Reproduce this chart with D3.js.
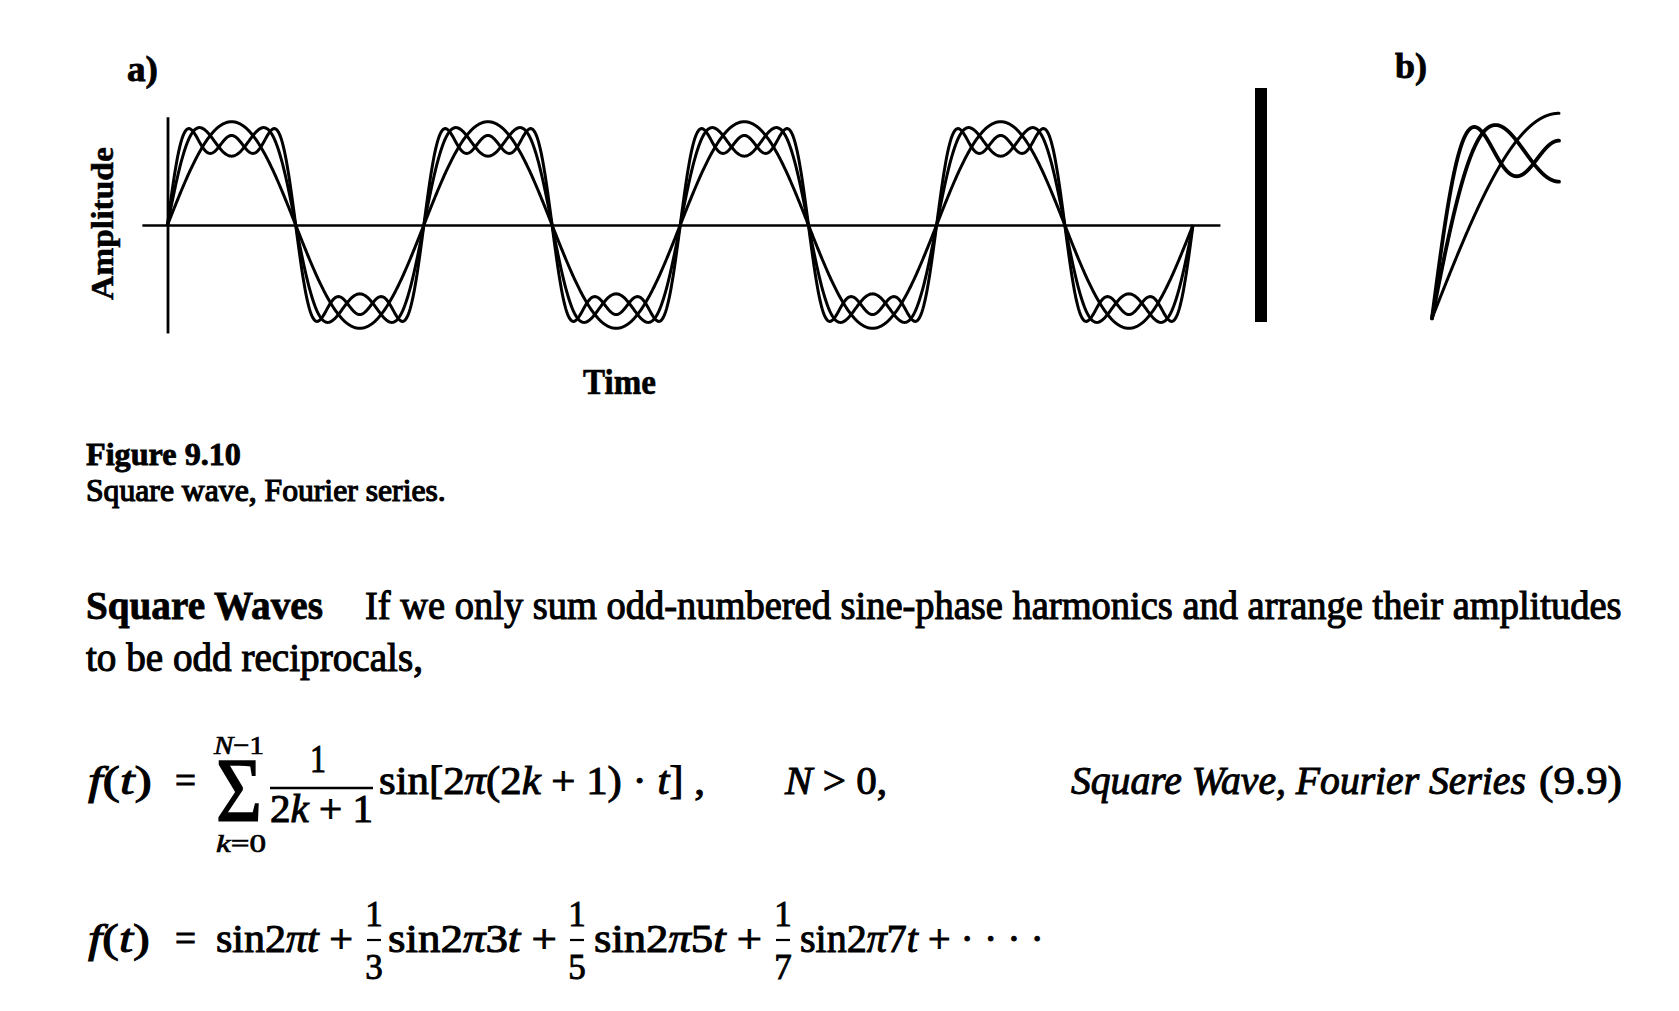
<!DOCTYPE html>
<html><head><meta charset="utf-8">
<script src="https://cdn.jsdelivr.net/npm/d3@7"></script>
<style>body{margin:0;background:#fff} svg{display:block}</style>
</head><body>
<script>
// ---------------- data ----------------
const harmonicNumbers    = [1, 3, 5];          // odd harmonics (2k+1)
const harmonicAmplitudes = [1, 1/3, 1/5];      // odd reciprocals 1/(2k+1)
const termCounts         = [1, 2, 3];          // N of each plotted partial sum
const periodsShown       = [0, 4];             // panel a: time span in periods
const detailShown        = [0, 0.25];          // panel b: time span in periods
const sampleCount        = 1200;

function partialSum(t, N) {
  let s = 0;
  for (let k = 0; k < N; k++) s += harmonicAmplitudes[k] * Math.sin(2 * Math.PI * harmonicNumbers[k] * t);
  return s;
}

const W = 1679, H = 1011;
const svg = d3.select("body").append("svg").attr("width", W).attr("height", H)
  .style("font-family", "'Liberation Serif', 'Times New Roman', serif");

// ---------------- panel a ----------------
const xA = d3.scaleLinear().domain(periodsShown).range([167.5, 1193]);
const yA = d3.scaleLinear().domain([-1, 1]).range([328.3, 121.7]);

const xAxisScale = d3.scaleLinear().domain([-0.1, 4.105]).range([xA(-0.1), xA(4.105)]);
svg.append("g").attr("transform", `translate(0,${yA(0)})`)
  .call(d3.axisBottom(xAxisScale).tickValues([]).tickSizeOuter(0))
  .select(".domain").attr("stroke", "#000").attr("stroke-width", 2.4);
const yAxisScale = d3.scaleLinear().domain([-1.045, 1.048]).range([yA(-1.045), yA(1.048)]);
svg.append("g").attr("transform", `translate(${xA(0)},0)`)
  .call(d3.axisLeft(yAxisScale).tickValues([]).tickSizeOuter(0))
  .select(".domain").attr("stroke", "#000").attr("stroke-width", 2.8);

function samples(domain) {
  return d3.range(sampleCount + 1).map(i => domain[0] + (domain[1] - domain[0]) * i / sampleCount);
}
const tA = samples(periodsShown);
const lineA = d3.line().x(d => xA(d[0])).y(d => yA(d[1]));
svg.append("g").selectAll("path").data(termCounts).join("path")
  .attr("d", N => lineA(tA.map(t => [t, partialSum(t, N)])))
  .attr("fill", "none").attr("stroke", "#000").attr("stroke-width", 3)
  .attr("stroke-linejoin", "round");

// ---------------- separator bar ----------------
svg.append("rect").attr("x", 1255).attr("y", 88).attr("width", 12).attr("height", 234).attr("fill", "#000");

// ---------------- panel b (magnified start) ----------------
const xB = d3.scaleLinear().domain(detailShown).range([1432, 1559]);
const yB = d3.scaleLinear().domain([0, 1]).range([318.3, 113.3]);
const tB = samples(detailShown);
const lineB = d3.line().x(d => xB(d[0])).y(d => yB(d[1]));
svg.append("g").selectAll("path").data(termCounts).join("path")
  .attr("d", N => lineB(tB.map(t => [t, partialSum(t, N)])))
  .attr("fill", "none").attr("stroke", "#000").attr("stroke-width", N => N === 1 ? 3 : 3.8)
  .attr("stroke-linejoin", "round").attr("stroke-linecap", "round");

// ---------------- text helper: fits a target width by horizontal scaling ----------------
function txt(parts, x, y, size, opts = {}) {
  const t = svg.append("text").attr("x", 0).attr("y", 0)
    .attr("font-size", size)
    .attr("font-weight", opts.bold ? "bold" : "normal")
    .attr("font-style", opts.italic ? "italic" : "normal")
    .attr("fill", "#000")
    .attr("stroke", "#000").attr("stroke-width", opts.sw ?? 1);
  if (opts.anchor) t.attr("text-anchor", opts.anchor);
  (typeof parts === "string" ? [[parts]] : parts).forEach(p => {
    const s = t.append("tspan").text(p[0]);
    if (p[1] === "i") s.attr("font-style", "italic");
  });
  let sx = 1;
  if (opts.len) {
    const natural = t.node().getComputedTextLength();
    if (natural > 0) sx = opts.len / natural;
  }
  t.attr("transform", `translate(${x},${y})${opts.rotate ? ` rotate(${opts.rotate})` : ""} scale(${sx},1)`);
  return t;
}

// panel labels
txt("a)", 127, 81, 35, {bold: true, len: 31, sw: 0.8});
txt("b)", 1395, 78, 35, {bold: true, len: 32, sw: 0.8});
txt("Amplitude", 113, 300, 31, {bold: true, rotate: -90, len: 153, sw: 0.5});
txt("Time", 583, 394, 35, {bold: true, len: 73, sw: 0.6});

// caption
txt("Figure 9.10", 86, 465, 31, {bold: true, len: 155, sw: 0.8});
txt("Square wave, Fourier series.", 86, 501, 31, {len: 360, sw: 1.2});

// paragraph
txt("Square Waves", 86, 619, 41, {bold: true, len: 237, sw: 0.8});
txt("If we only sum odd-numbered sine-phase harmonics and arrange their amplitudes", 365, 619, 41, {len: 1257, sw: 1.1});
txt("to be odd reciprocals,", 86, 671, 41, {len: 337, sw: 1.1});

// equation (9.9)
const b1 = 794;
txt([["f", "i"], ["("], ["t", "i"], [")"]], 88, b1, 41, {len: 64});
txt("=", 175, b1, 40, {len: 21});
txt("Σ", 216, 821, 92, {len: 46, sw: 1.6});
txt([["N", "i"], ["−1"]], 214, 754, 26, {len: 50, sw: 0.7});
txt([["k", "i"], ["=0"]], 216, 852, 26, {len: 50, sw: 0.7});
txt("1", 310, 772, 41, {len: 16});
svg.append("line").attr("x1", 270).attr("x2", 373).attr("y1", 788).attr("y2", 788)
  .attr("stroke", "#000").attr("stroke-width", 2.4);
txt([["2"], ["k", "i"], [" + 1"]], 270, 822, 41, {len: 103});
txt([["sin[2"], ["π", "i"], ["(2"], ["k", "i"], [" + 1) · "], ["t", "i"], ["] ,"]], 379, b1, 41, {len: 326});
txt([["N", "i"], [" > 0,"]], 785, b1, 41, {len: 102});
txt("Square Wave, Fourier Series", 1071, b1, 41, {italic: true, len: 455});
txt("(9.9)", 1539, b1, 41, {len: 83});

// expanded series
const b2 = 952;
txt([["f", "i"], ["("], ["t", "i"], [")"]], 88, b2, 41, {len: 62});
txt("=", 175, b2, 40, {len: 21});
txt([["sin2"], ["πt", "i"], [" +"]], 216, b2, 41, {len: 137});
function frac(num, den, x) {
  txt(num, x, 926, 35, {anchor: "middle", sw: 0.9});
  txt(den, x, 979, 35, {anchor: "middle", sw: 0.9});
  svg.append("line").attr("x1", x - 7).attr("x2", x + 7).attr("y1", 940).attr("y2", 940)
    .attr("stroke", "#000").attr("stroke-width", 2.2);
}
frac("1", "3", 374);
txt([["sin2"], ["π", "i"], ["3"], ["t", "i"], [" +"]], 388, b2, 41, {len: 169});
frac("1", "5", 577);
txt([["sin2"], ["π", "i"], ["5"], ["t", "i"], [" +"]], 594, b2, 41, {len: 168});
frac("1", "7", 783);
txt([["sin2"], ["π", "i"], ["7"], ["t", "i"], [" + · · · ·"]], 800, b2, 41, {len: 244});
</script>
</body></html>
